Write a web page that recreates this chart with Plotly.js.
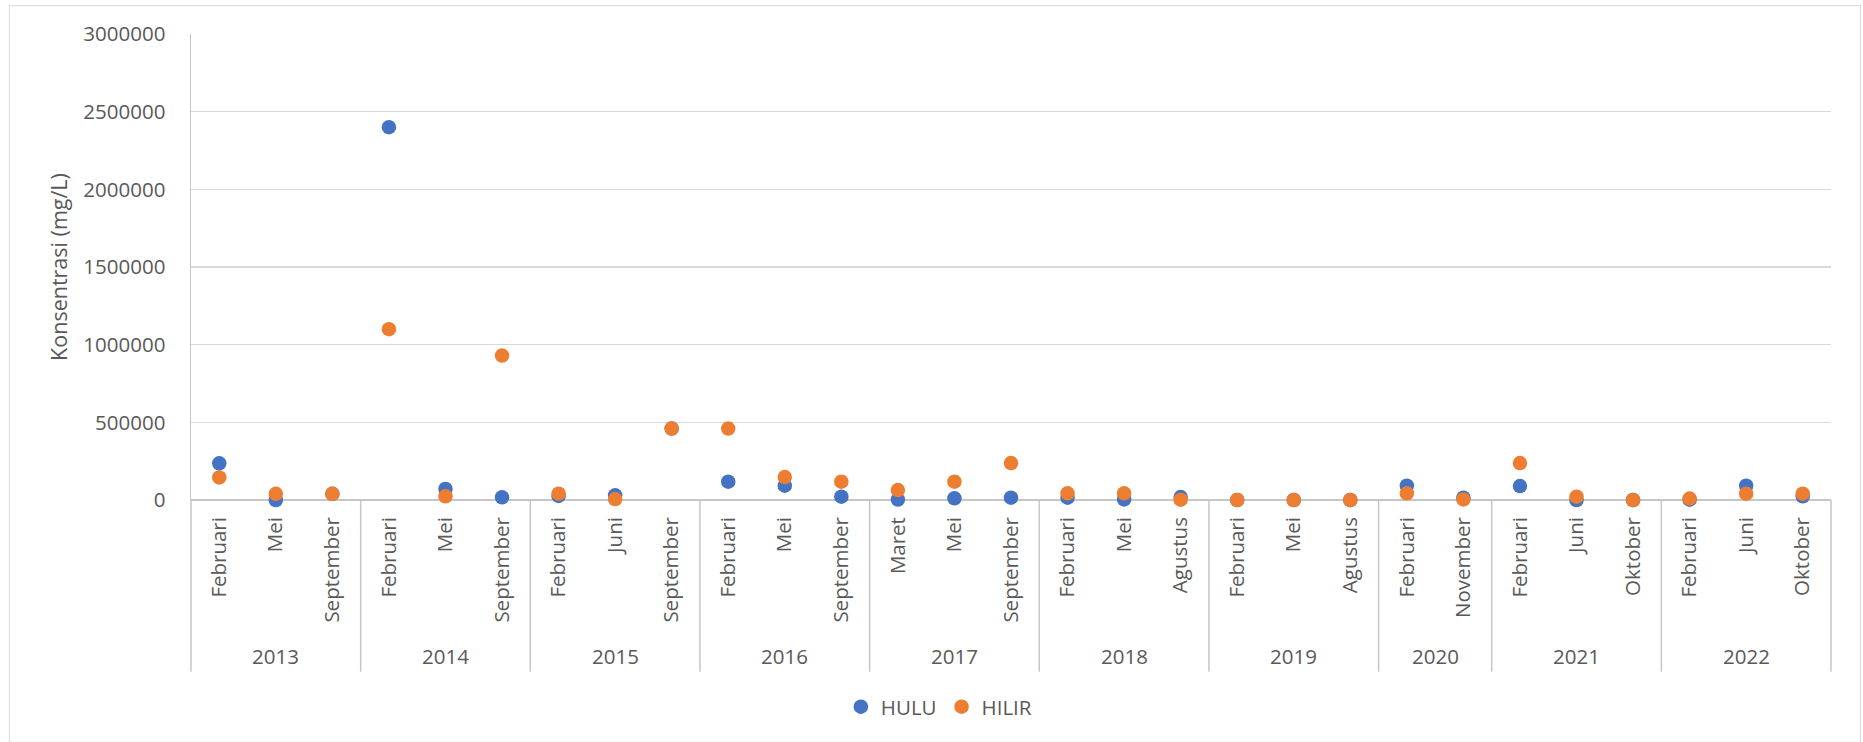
<!DOCTYPE html>
<html>
<head>
<meta charset="utf-8">
<script src="https://cdn.plot.ly/plotly-3.0.1.min.js"></script>
<style>
  html, body { margin: 0; padding: 0; background: #ffffff; }
  #chart { width: 1863px; height: 742px; }
</style>
</head>
<body>
<div id="chart"></div>
<script>
// Sampling periods: year of each sample and the month it was taken
const years = ['2013','2013','2013','2014','2014','2014','2015','2015','2015',
  '2016','2016','2016','2017','2017','2017','2018','2018','2018',
  '2019','2019','2019','2020','2020','2021','2021','2021','2022','2022','2022'];
const months = ['Februari','Mei','September','Februari','Mei','September','Februari','Juni','September',
  'Februari','Mei','September','Maret','Mei','September','Februari','Mei','Agustus',
  'Februari','Mei','Agustus','Februari','November','Februari','Juni','Oktober','Februari','Juni','Oktober'];

// Concentration (mg/L) upstream (HULU) and downstream (HILIR)
const hulu = [236000, 0, 40000, 2400000, 71000, 17000, 26000, 30000, 460000,
  118000, 92000, 21000, 3000, 11000, 15000, 15000, 4000, 19000,
  0, 0, 0, 92000, 15000, 90000, 0, 0, 2000, 92000, 24000];
const hilir = [145000, 40000, 40000, 1100000, 24000, 930000, 41000, 6000, 460000,
  460000, 148000, 118000, 64000, 118000, 238000, 43000, 43000, 2000,
  0, 0, 0, 43000, 4000, 238000, 21000, 0, 9000, 41000, 41000];

const yTicks = [0, 500000, 1000000, 1500000, 2000000, 2500000, 3000000];

const textColor = '#595959';
const fontFamily = '"Open Sans", "Segoe UI", sans-serif';
const fontSize = 20.5;

const idx = months.map((_, i) => i);

// Year groups: first/last index of each year
const groups = [];
years.forEach((y, i) => {
  const g = groups[groups.length - 1];
  if (g && g.year === y) { g.end = i; } else { groups.push({ year: y, start: i, end: i }); }
});

const n = months.length;
const xMin = -0.5, xMax = n - 0.5;
const toPaperX = v => (v - xMin) / (xMax - xMin);

const shapes = [];
// Group dividers below the category axis
const bounds = [groups[0].start - 0.5].concat(groups.map(g => g.end + 0.5));
bounds.forEach(b => {
  shapes.push({
    type: 'line', xref: 'paper', yref: 'paper',
    x0: toPaperX(b), x1: toPaperX(b), y0: 0, y1: -0.3685,
    line: { color: '#c6c6c6', width: 1.5 }, layer: 'below'
  });
});
// Chart area frame
shapes.push({
  type: 'rect', xref: 'paper', yref: 'paper',
  x0: -0.1107, x1: 1.018, y0: -0.52, y1: 1.0607,
  line: { color: '#d9d9d9', width: 1 }, fillcolor: 'rgba(0,0,0,0)', layer: 'below'
});

const annotations = groups.map(g => ({
  xref: 'x', yref: 'paper',
  x: (g.start + g.end) / 2, y: -0.335,
  text: g.year, showarrow: false,
  xanchor: 'center', yanchor: 'middle',
  font: { family: fontFamily, size: fontSize, color: textColor }
}));

const traces = [
  {
    name: 'HULU', x: idx, y: hulu, type: 'scatter', mode: 'markers',
    marker: { color: '#4472C4', size: 14.5 }, cliponaxis: false
  },
  {
    name: 'HILIR', x: idx, y: hilir, type: 'scatter', mode: 'markers',
    marker: { color: '#ED7D31', size: 14.5 }, cliponaxis: false
  }
];

const layout = {
  width: 1863, height: 742,
  margin: { l: 191, r: 32, t: 34, b: 242, pad: 0 },
  paper_bgcolor: '#ffffff', plot_bgcolor: '#ffffff',
  font: { family: fontFamily, size: fontSize, color: textColor },
  showlegend: true,
  legend: {
    orientation: 'h', x: 0.456, xanchor: 'center', y: -0.444, yanchor: 'middle',
    font: { family: fontFamily, size: fontSize, color: textColor },
    bgcolor: 'rgba(0,0,0,0)'
  },
  xaxis: {
    range: [xMin, xMax], tickmode: 'array', tickvals: idx, ticktext: months,
    tickangle: -90, showgrid: false, zeroline: false,
    showline: false, ticks: '', ticklabelstandoff: 12,
    tickfont: { family: fontFamily, size: fontSize, color: textColor },
    fixedrange: true
  },
  yaxis: {
    range: [0, 3000000], tickmode: 'array', tickvals: yTicks,
    ticktext: yTicks.map(v => String(v)),
    showgrid: true, gridcolor: '#d9d9d9', gridwidth: 1.3,
    zeroline: true, zerolinecolor: '#c6c6c6', zerolinewidth: 1.5,
    showline: true, linecolor: '#c6c6c6', linewidth: 1.5,
    ticks: '', ticklabelstandoff: 20,
    tickfont: { family: fontFamily, size: fontSize, color: textColor },
    title: { text: 'Konsentrasi (mg/L)', standoff: 10,
      font: { family: fontFamily, size: 21.5, color: textColor } },
    fixedrange: true
  },
  shapes: shapes,
  annotations: annotations
};

Plotly.newPlot('chart', traces, layout, { displayModeBar: false, staticPlot: true });
</script>
</body>
</html>
